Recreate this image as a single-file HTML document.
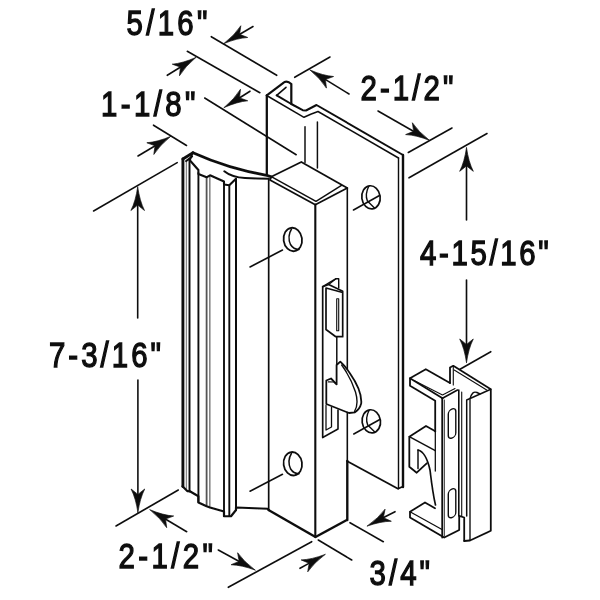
<!DOCTYPE html>
<html><head><meta charset="utf-8"><title>Door handle dimensions</title>
<style>
html,body{margin:0;padding:0;background:#fff;}
body{width:600px;height:600px;overflow:hidden;font-family:"Liberation Sans",sans-serif;}
svg{display:block;}
svg path{stroke-linecap:round;stroke-linejoin:round;}
svg text{font-family:"Liberation Sans",sans-serif;fill:#111;stroke:#111;stroke-width:1.35px;}
</style></head><body>
<svg width="600" height="600" viewBox="0 0 600 600">
<defs><filter id="soft" x="-2%" y="-2%" width="104%" height="104%"><feGaussianBlur stdDeviation="0.45"/></filter></defs>
<rect width="600" height="600" fill="#fff"/>
<g filter="url(#soft)">
<text transform="translate(126.5 35) scale(0.84 1)" x="0" y="0" font-size="35.0" textLength="96.43" lengthAdjust="spacing">5/16&quot;</text>
<text transform="translate(101 116.2) scale(0.84 1)" x="0" y="0" font-size="35.0" textLength="112.50" lengthAdjust="spacing">1-1/8&quot;</text>
<text transform="translate(360.5 99.5) scale(0.84 1)" x="0" y="0" font-size="35.0" textLength="110.60" lengthAdjust="spacing">2-1/2&quot;</text>
<text transform="translate(420 265.4) scale(0.84 1)" x="0" y="0" font-size="35.0" textLength="153.33" lengthAdjust="spacing">4-15/16&quot;</text>
<text transform="translate(49 366.5) scale(0.84 1)" x="0" y="0" font-size="35.0" textLength="133.33" lengthAdjust="spacing">7-3/16&quot;</text>
<text transform="translate(118.5 568.3) scale(0.84 1)" x="0" y="0" font-size="35.0" textLength="112.38" lengthAdjust="spacing">2-1/2&quot;</text>
<text transform="translate(369.5 585) scale(0.84 1)" x="0" y="0" font-size="35.0" textLength="72.02" lengthAdjust="spacing">3/4&quot;</text>
<path d="M211.30,36.70 L276.70,75.30" fill="none" stroke="#111" stroke-width="1.6" />
<path d="M187.30,51.30 L259.90,92.70" fill="none" stroke="#111" stroke-width="1.6" />
<path d="M204.70,98.00 L296.20,154.70" fill="none" stroke="#111" stroke-width="1.6" />
<path d="M153.50,125.20 L186.50,145.50" fill="none" stroke="#111" stroke-width="1.6" />
<path d="M253.00,26.50 L239.41,34.47" fill="none" stroke="#111" stroke-width="1.6" />
<path d="M224.00,43.50 Q235.15,34.64 240.83,25.75 L239.89,32.33 L239.41,34.47 L241.51,35.09 L247.71,37.48 Q237.18,38.09 224.00,43.50 Z" fill="#111" stroke="#111" stroke-width="0.7" style="stroke-linejoin:miter"/>
<path d="M167.30,75.30 L180.65,66.96" fill="none" stroke="#111" stroke-width="1.6" />
<path d="M195.80,57.50 Q184.90,66.67 179.47,75.72 L180.23,69.11 L180.65,66.96 L178.53,66.40 L172.27,64.18 Q182.78,63.27 195.80,57.50 Z" fill="#111" stroke="#111" stroke-width="0.7" style="stroke-linejoin:miter"/>
<path d="M250.00,91.30 L239.33,98.00" fill="none" stroke="#111" stroke-width="1.6" />
<path d="M224.20,107.50 Q235.08,98.31 240.49,89.24 L239.74,95.85 L239.33,98.00 L241.45,98.56 L247.72,100.76 Q237.20,101.70 224.20,107.50 Z" fill="#111" stroke="#111" stroke-width="0.7" style="stroke-linejoin:miter"/>
<path d="M138.00,156.00 L155.19,145.69" fill="none" stroke="#111" stroke-width="1.6" />
<path d="M170.50,136.50 Q159.44,145.47 153.85,154.42 L154.72,147.83 L155.19,145.69 L153.08,145.09 L146.85,142.76 Q157.38,142.04 170.50,136.50 Z" fill="#111" stroke="#111" stroke-width="0.7" style="stroke-linejoin:miter"/>
<path d="M294.70,77.30 L330.00,57.00" fill="none" stroke="#111" stroke-width="1.6" />
<path d="M408.30,152.50 L452.00,128.00" fill="none" stroke="#111" stroke-width="1.6" />
<path d="M349.00,94.00 L325.21,79.36" fill="none" stroke="#111" stroke-width="1.6" />
<path d="M310.00,70.00 Q323.06,75.69 333.58,76.53 L327.33,78.78 L325.21,79.36 L325.65,81.51 L326.45,88.11 Q320.96,79.09 310.00,70.00 Z" fill="#111" stroke="#111" stroke-width="0.7" style="stroke-linejoin:miter"/>
<path d="M378.00,111.00 L413.88,131.46" fill="none" stroke="#111" stroke-width="1.6" />
<path d="M429.40,140.30 Q416.16,135.05 405.62,134.57 L411.79,132.10 L413.88,131.46 L413.37,129.32 L412.35,122.75 Q418.14,131.58 429.40,140.30 Z" fill="#111" stroke="#111" stroke-width="0.7" style="stroke-linejoin:miter"/>
<path d="M409.00,177.80 L487.00,133.50" fill="none" stroke="#111" stroke-width="1.6" />
<path d="M460.00,369.20 L490.80,351.70" fill="none" stroke="#111" stroke-width="1.6" />
<path d="M466.50,220.00 L466.50,165.66" fill="none" stroke="#111" stroke-width="1.6" />
<path d="M466.50,147.80 Q468.50,161.90 473.30,171.30 L468.10,167.16 L466.50,165.66 L464.90,167.16 L459.70,171.30 Q464.50,161.90 466.50,147.80 Z" fill="#111" stroke="#111" stroke-width="0.7" style="stroke-linejoin:miter"/>
<path d="M466.50,280.00 L466.50,344.64" fill="none" stroke="#111" stroke-width="1.6" />
<path d="M466.50,362.50 Q464.50,348.40 459.70,339.00 L464.90,343.14 L466.50,344.64 L468.10,343.14 L473.30,339.00 Q468.50,348.40 466.50,362.50 Z" fill="#111" stroke="#111" stroke-width="0.7" style="stroke-linejoin:miter"/>
<path d="M93.60,211.00 L177.20,162.60" fill="none" stroke="#111" stroke-width="1.6" />
<path d="M116.00,526.00 L178.30,490.00" fill="none" stroke="#111" stroke-width="1.6" />
<path d="M137.70,318.00 L137.70,204.86" fill="none" stroke="#111" stroke-width="1.6" />
<path d="M137.70,187.00 Q139.70,201.10 144.50,210.50 L139.30,206.36 L137.70,204.86 L136.10,206.36 L130.90,210.50 Q135.70,201.10 137.70,187.00 Z" fill="#111" stroke="#111" stroke-width="0.7" style="stroke-linejoin:miter"/>
<path d="M137.90,380.00 L137.90,494.64" fill="none" stroke="#111" stroke-width="1.6" />
<path d="M137.90,512.50 Q135.90,498.40 131.10,489.00 L136.30,493.14 L137.90,494.64 L139.50,493.14 L144.70,489.00 Q139.90,498.40 137.90,512.50 Z" fill="#111" stroke="#111" stroke-width="0.7" style="stroke-linejoin:miter"/>
<path d="M186.70,531.70 L165.34,518.95" fill="none" stroke="#111" stroke-width="1.6" />
<path d="M150.00,509.80 Q163.13,515.31 173.66,516.00 L167.44,518.35 L165.34,518.95 L165.81,521.09 L166.70,527.68 Q161.08,518.74 150.00,509.80 Z" fill="#111" stroke="#111" stroke-width="0.7" style="stroke-linejoin:miter"/>
<path d="M218.30,550.00 L239.32,561.45" fill="none" stroke="#111" stroke-width="1.6" />
<path d="M255.00,570.00 Q241.66,565.01 231.11,564.73 L237.23,562.14 L239.32,561.45 L238.77,559.33 L237.62,552.78 Q243.58,561.50 255.00,570.00 Z" fill="#111" stroke="#111" stroke-width="0.7" style="stroke-linejoin:miter"/>
<path d="M228.30,587.30 L311.70,541.70" fill="none" stroke="#111" stroke-width="1.6" />
<path d="M350.00,522.70 L383.30,541.70" fill="none" stroke="#111" stroke-width="1.6" />
<path d="M318.30,540.00 L351.70,560.00" fill="none" stroke="#111" stroke-width="1.6" />
<path d="M395.00,511.70 L383.17,517.81" fill="none" stroke="#111" stroke-width="1.6" />
<path d="M367.30,526.00 Q378.91,517.75 385.06,509.18 L383.77,515.70 L383.17,517.81 L385.24,518.54 L391.30,521.26 Q380.75,521.31 367.30,526.00 Z" fill="#111" stroke="#111" stroke-width="0.7" style="stroke-linejoin:miter"/>
<path d="M300.00,568.30 L309.36,563.13" fill="none" stroke="#111" stroke-width="1.6" />
<path d="M325.00,554.50 Q313.62,563.06 307.71,571.81 L308.82,565.26 L309.36,563.13 L307.28,562.46 L301.14,559.90 Q311.69,559.56 325.00,554.50 Z" fill="#111" stroke="#111" stroke-width="0.7" style="stroke-linejoin:miter"/>
<path d="M182.90,159.00 L182.90,486.50" fill="none" stroke="#111" stroke-width="2.9" />
<path d="M186.40,161.00 L186.40,489.00" fill="none" stroke="#888" stroke-width="1.3" />
<path d="M189.50,160.00 L189.50,491.50" fill="none" stroke="#111" stroke-width="2.0" />
<path d="M198.40,173.00 L198.40,502.00" fill="none" stroke="#111" stroke-width="1.9" />
<path d="M206.60,177.50 L206.60,506.00" fill="none" stroke="#555" stroke-width="1.8" />
<path d="M209.80,176.00 L209.80,507.50" fill="none" stroke="#888" stroke-width="1.6" />
<path d="M224.00,182.00 L224.00,516.00" fill="none" stroke="#111" stroke-width="1.9" />
<path d="M229.30,185.50 L229.30,516.00" fill="none" stroke="#111" stroke-width="1.9" />
<path d="M236.00,179.00 L236.00,510.00" fill="none" stroke="#111" stroke-width="2.0" />
<path d="M182.90,159.00 L193.00,152.70" fill="none" stroke="#111" stroke-width="2.9" />
<path d="M193,152.7 Q228,168.5 266.7,175.3 L271.3,176.9" fill="none" stroke="#111" stroke-width="2.8"/>
<path d="M186.20,161.00 L192.00,156.50" fill="none" stroke="#111" stroke-width="2.2" />
<path d="M189.60,160.00 L198.40,170.00 L198.40,174.00 L206.60,177.30 L210.00,175.30 L224.00,181.50 L224.00,184.50 L229.30,185.30 L236.00,178.70" fill="none" stroke="#111" stroke-width="2.1" />
<path d="M192.00,154.50 L190.00,160.00" fill="none" stroke="#111" stroke-width="1.9" />
<path d="M224.3,171.3 Q232,177.5 245,178 T268.7,178.7" fill="none" stroke="#111" stroke-width="2.1"/>
<path d="M182.50,486.25 L187.50,491.25 L189.40,491.00 L198.40,496.25 L198.40,502.50 L206.60,506.25 L210.00,507.50 L224.00,511.50 L224.00,516.25 L231.00,516.25 L236.00,510.00 L236.00,507.50 L267.50,508.75 L269.00,510.00" fill="none" stroke="#111" stroke-width="2.2" />
<path d="M266.80,95.30 L266.80,175.00" fill="none" stroke="#111" stroke-width="2.3" />
<path d="M266.8,95.3 L282.7,83.3 Q286.7,79.8 291.3,84 L291.3,104" fill="none" stroke="#111" stroke-width="2.2"/>
<path d="M276.70,95.30 L286.00,87.30" fill="none" stroke="#111" stroke-width="1.6" />
<path d="M276.70,95.30 L291.30,104.00 L302.70,110.20 L306.00,110.50 L316.50,105.00 L403.00,155.00" fill="none" stroke="#111" stroke-width="2.0" />
<path d="M267.50,96.00 L304.00,117.30 L310.70,114.30 L318.00,111.50 L398.50,158.00" fill="none" stroke="#111" stroke-width="1.5" />
<path d="M403.00,155.00 L403.00,487.00" fill="none" stroke="#111" stroke-width="2.4" />
<path d="M398.50,158.00 L398.50,488.75" fill="none" stroke="#111" stroke-width="1.4" />
<path d="M347.30,461.25 L398.00,488.75 L403.00,486.50" fill="none" stroke="#111" stroke-width="1.9" />
<path d="M305.00,126.70 L305.00,162.50" fill="none" stroke="#111" stroke-width="1.5" />
<path d="M317.40,122.00 L317.40,168.00" fill="none" stroke="#111" stroke-width="1.5" />
<path d="M270.00,180.00 L271.30,176.70 L301.30,162.00 L347.30,188.00 L315.30,204.70 L270.00,180.00" fill="none" stroke="#111" stroke-width="1.8" />
<path d="M271.30,176.70 L316.00,201.30 L341.50,185.30" fill="none" stroke="#111" stroke-width="1.5" />
<path d="M268.70,178.70 L268.70,510.00" fill="none" stroke="#111" stroke-width="1.7" />
<path d="M315.30,204.50 L315.30,537.00" fill="none" stroke="#111" stroke-width="2.1" />
<path d="M347.30,188.00 L347.30,461.00" fill="none" stroke="#111" stroke-width="1.6" />
<path d="M347.30,461.00 L347.30,520.00" fill="none" stroke="#111" stroke-width="2.4" />
<path d="M268.50,510.00 L315.50,537.00 L346.80,520.00" fill="none" stroke="#111" stroke-width="2.4" />
<ellipse cx="292.8" cy="239.5" rx="9.2" ry="11.8" fill="none" stroke="#111" stroke-width="1.8" transform="rotate(-8 292.8 239.5)"/>
<path d="M291.5,229.0 Q287,236.5 290.5,244.5 Q293.5,249.5 299,249.5" fill="none" stroke="#111" stroke-width="1.5"/>
<path d="M250.00,267.00 L282.50,250.00" fill="none" stroke="#111" stroke-width="1.6" />
<ellipse cx="292.8" cy="463.75" rx="9.2" ry="11.8" fill="none" stroke="#111" stroke-width="1.8" transform="rotate(-8 292.8 463.75)"/>
<path d="M291.5,453.25 Q287,460.75 290.5,468.75 Q293.5,473.75 299,473.75" fill="none" stroke="#111" stroke-width="1.5"/>
<path d="M250.00,491.25 L282.50,474.25" fill="none" stroke="#111" stroke-width="1.6" />
<ellipse cx="371" cy="197.3" rx="9.2" ry="11.6" fill="none" stroke="#111" stroke-width="1.7" transform="rotate(-8 371 197.3)"/>
<path d="M368.7,186.5 Q364.7,194.3 367.4,201.10000000000002 L374.5,208.0" fill="none" stroke="#111" stroke-width="1.4"/>
<path d="M353.50,210.00 L379.50,195.50" fill="none" stroke="#111" stroke-width="1.6" />
<ellipse cx="371.3" cy="421.3" rx="9.2" ry="11.6" fill="none" stroke="#111" stroke-width="1.7" transform="rotate(-8 371.3 421.3)"/>
<path d="M369.0,410.5 Q365.0,418.3 367.7,425.1 L374.8,432.0" fill="none" stroke="#111" stroke-width="1.4"/>
<path d="M353.80,434.00 L379.80,419.50" fill="none" stroke="#111" stroke-width="1.6" />
<path d="M322.70,286.70 L322.70,437.30" fill="none" stroke="#111" stroke-width="1.7" />
<path d="M322.70,286.70 L336.00,278.70 L338.70,278.70 L338.70,288.00" fill="none" stroke="#111" stroke-width="1.4" />
<path d="M328.70,284.50 L336.00,278.70" fill="none" stroke="#111" stroke-width="1.2" />
<path d="M322.70,286.70 L328.70,284.50 L342.70,291.30" fill="none" stroke="#111" stroke-width="1.7" />
<path d="M326.00,288.00 L342.70,292.50 L342.70,336.70 L335.80,336.70 L326.00,329.50 Z" fill="none" stroke="#111" stroke-width="1.7" />
<path d="M336.70,298.70 L338.70,298.70 L338.70,330.70 L336.70,330.70 Z" fill="none" stroke="#111" stroke-width="1.1" />
<path d="M336.80,336.70 L336.80,364.50" fill="none" stroke="#111" stroke-width="1.5" />
<path d="M340.3,361.7 L336.6,365 L336.6,384.3 L331,378.5 L326.3,380.5 L326.3,404 L349,413 L355,412.3 Q359.8,409 361.2,403.5 Q362.3,391 349.7,373 Q345,366 340.3,361.7 Z" fill="#fff" stroke="#111" stroke-width="1.8"/>
<path d="M341.7,365 Q351,378 355.5,392 Q359,404 354.5,411.5" fill="none" stroke="#111" stroke-width="1.4"/>
<path d="M328.30,381.80 L334.00,382.00 L336.60,384.30" fill="none" stroke="#111" stroke-width="1.2" />
<path d="M322.70,437.50 L338.00,429.00 L338.00,410.00" fill="none" stroke="#111" stroke-width="1.6" />
<path d="M326.00,405.50 L326.00,430.00 L331.50,427.00 L331.50,407.50" fill="none" stroke="#111" stroke-width="1.3" />
<path d="M410.00,378.30 L425.80,369.20 L450.00,383.00" fill="none" stroke="#111" stroke-width="1.8" />
<path d="M442.50,398.30 L410.00,378.30 L410.00,385.80 L435.20,400.80 L435.20,431.30" fill="none" stroke="#111" stroke-width="1.8" />
<path d="M442.50,398.30 L457.50,390.00" fill="none" stroke="#111" stroke-width="1.6" />
<path d="M414.00,380.50 L442.50,395.00 L455.00,388.50" fill="none" stroke="#111" stroke-width="1.1" />
<path d="M442.20,398.30 L442.20,537.50" fill="none" stroke="#111" stroke-width="1.8" />
<path d="M444.30,400.00 L444.30,536.00" fill="none" stroke="#111" stroke-width="0.9" />
<path d="M458.80,390.00 L458.80,516.00" fill="none" stroke="#111" stroke-width="1.6" />
<rect x="448.3" y="409" width="7.5" height="29" rx="3.7" fill="none" stroke="#111" stroke-width="1.4" transform="skewY(-20) translate(0 164.51)"/>
<rect x="448.3" y="489" width="7.5" height="28.5" rx="3.7" fill="none" stroke="#111" stroke-width="1.4" transform="skewY(-20) translate(0 164.51)"/>
<path d="M435.30,431.30 L426.00,426.00 L409.30,436.70 L409.30,466.70 L416.70,472.70 L426.70,463.30" fill="none" stroke="#111" stroke-width="1.8" />
<path d="M409.30,436.70 L435.30,450.70" fill="none" stroke="#111" stroke-width="1.5" />
<path d="M418.00,450.00 L418.00,468.50" fill="none" stroke="#111" stroke-width="1.5" />
<path d="M418,450 Q426,452 430,470 Q433,495 435.5,505" fill="none" stroke="#111" stroke-width="1.7"/>
<path d="M435.30,431.30 L435.30,471.00" fill="none" stroke="#111" stroke-width="1.3" />
<path d="M435.00,508.30 L425.00,502.50 L410.00,511.70 L410.00,517.50 L444.20,537.50 L459.20,530.00 L459.20,515.80 L464.20,517.50 L464.20,541.00" fill="none" stroke="#111" stroke-width="1.8" />
<path d="M410.00,511.70 L442.00,529.50" fill="none" stroke="#111" stroke-width="1.3" />
<path d="M450.00,383.00 L450.00,367.50 L453.30,365.80 L490.80,389.20 L490.80,530.80 L470.00,540.50 L464.20,541.00" fill="none" stroke="#111" stroke-width="1.8" />
<path d="M454.20,370.00 L486.70,390.00" fill="none" stroke="#111" stroke-width="1.1" />
<path d="M453.30,365.80 L453.30,385.00" fill="none" stroke="#111" stroke-width="1.1" />
<path d="M490.80,389.20 L466.70,400.00 L466.70,516.00" fill="none" stroke="#111" stroke-width="1.5" />
<path d="M461.70,392.00 L461.70,516.00" fill="none" stroke="#111" stroke-width="1.1" />
<path d="M470.00,400.00 L470.00,540.00" fill="none" stroke="#111" stroke-width="1.4" />
<path d="M470,399 Q472,390.5 477,392.5 L480,394" fill="none" stroke="#111" stroke-width="1.4"/>
</g>
</svg>
</body></html>
